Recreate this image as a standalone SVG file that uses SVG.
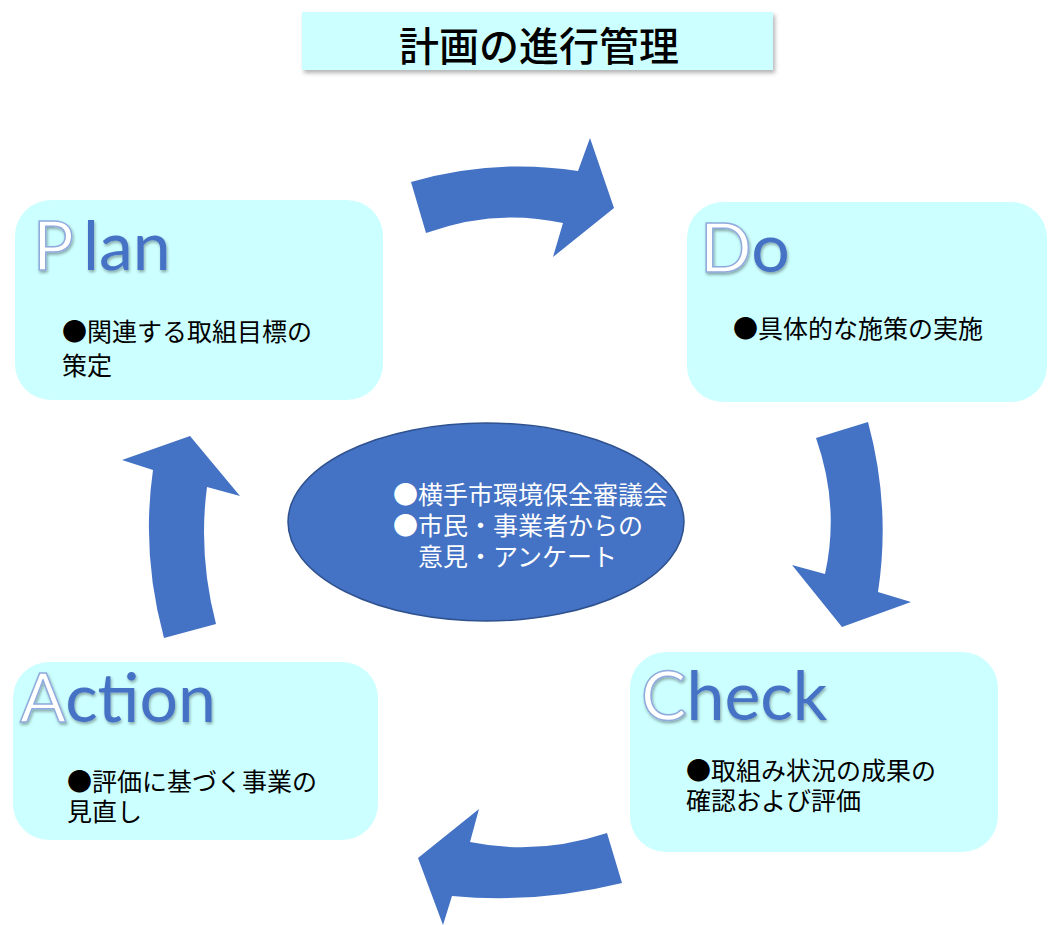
<svg xmlns="http://www.w3.org/2000/svg" width="1048" height="925" viewBox="0 0 1048 925">
<defs>
<style>
.box{fill:#CCFFFF;}
.arrow{fill:#4472C4;}
.big{font-family:"Lato","Open Sans","Liberation Sans",sans-serif;font-size:68px;}
.first{fill:#FFFFFF;stroke:#8FAADC;stroke-width:1.5;}
.rest{fill:#4472C4;}
.jp{font-family:"Noto Sans CJK JP","Noto Sans",sans-serif;font-size:25px;fill:#000000;}
.jpw{font-family:"Noto Sans CJK JP","Noto Sans",sans-serif;font-size:25px;fill:#FFFFFF;}
.title{font-family:"Noto Sans CJK JP","Noto Sans",sans-serif;font-size:40px;fill:#000000;font-weight:500;}
</style>
<filter id="sh" x="-10%" y="-10%" width="130%" height="140%">
<feDropShadow dx="2" dy="3" stdDeviation="2" flood-color="#000000" flood-opacity="0.3"/>
</filter>
<filter id="tsh" x="-20%" y="-20%" width="140%" height="140%">
<feDropShadow dx="1" dy="2" stdDeviation="1.5" flood-color="#000000" flood-opacity="0.35"/>
</filter>
</defs>
<rect width="1048" height="925" fill="#FFFFFF"/>

<g id="title">
<rect x="302" y="12" width="471" height="58" class="box" filter="url(#sh)"/>
<text x="539" y="61" text-anchor="middle" class="title">計画の進行管理</text>
</g>

<g id="connectors">
<path class="arrow" d="M411,182 Q495,158 578,171 L590,138 L614,208 L553,257 L563,223 Q495,208 426,233 Z"/>
<path class="arrow" d="M816,438 Q840,506 825,574 L792,565 L842,627 L911,602 L878,592 Q891,507 868,422 Z"/>
<path class="arrow" d="M607,833 Q538,856 470,842 L479,809 L418,858 L443,925 L452,896 Q537,904 622,883 Z"/>
<path class="arrow" d="M164,638 Q141,554 153,470 L122,460 L190,436 L240,496 L207,487 Q198,555 216,624 Z"/>
</g>

<g id="plan">
<rect x="15" y="200" width="368" height="200" rx="36" class="box"/>
<text class="big" y="270" filter="url(#tsh)"><tspan x="33" class="first">P</tspan><tspan x="83" class="rest">lan</tspan></text>
<text class="jp" x="62" y="341">●関連する取組目標の</text>
<text class="jp" x="62" y="375">策定</text>
</g>

<g id="do">
<rect x="687" y="202" width="360" height="200" rx="36" class="box"/>
<text class="big" y="272" filter="url(#tsh)"><tspan x="700" class="first">D</tspan><tspan class="rest">o</tspan></text>
<text class="jp" x="733" y="338">●具体的な施策の実施</text>
</g>

<g id="check">
<rect x="630" y="652" width="368" height="200" rx="36" class="box"/>
<text class="big" y="720" filter="url(#tsh)"><tspan x="641" class="first">C</tspan><tspan class="rest">heck</tspan></text>
<text class="jp" x="686" y="780">●取組み状況の成果の</text>
<text class="jp" x="686" y="810">確認および評価</text>
</g>

<g id="action">
<rect x="13" y="662" width="365" height="178" rx="36" class="box"/>
<text class="big" y="722" filter="url(#tsh)"><tspan x="20" class="first">A</tspan><tspan class="rest">ction</tspan></text>
<text class="jp" x="67" y="791">●評価に基づく事業の</text>
<text class="jp" x="67" y="821">見直し</text>
</g>

<g id="center">
<ellipse cx="486" cy="522" rx="198" ry="99" fill="#4472C4" stroke="#2F528F" stroke-width="1.5"/>
<text class="jpw" x="393" y="504">●横手市環境保全審議会</text>
<text class="jpw" x="393" y="535">●市民・事業者からの</text>
<text class="jpw" x="418" y="566">意見・アンケート</text>
</g>
</svg>
